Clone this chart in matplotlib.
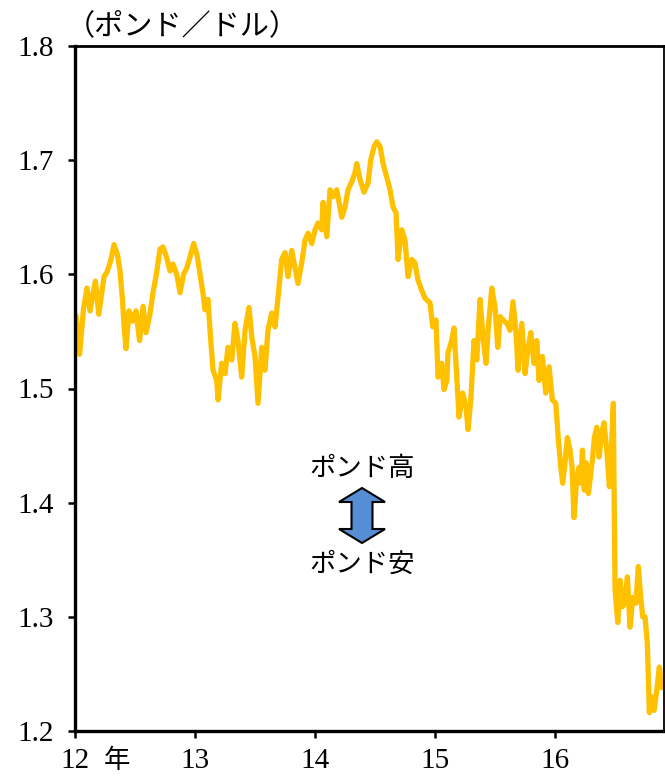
import matplotlib
matplotlib.use("Agg")
import matplotlib.pyplot as plt
from matplotlib.patches import Polygon

# decimal year, GBP/USD
t = [2012.008, 2012.038, 2012.071, 2012.100, 2012.125, 2012.170, 2012.198, 2012.242,
     2012.267, 2012.298, 2012.325, 2012.354, 2012.375, 2012.396, 2012.408, 2012.425,
     2012.450, 2012.481, 2012.508, 2012.538, 2012.567, 2012.592, 2012.623, 2012.650,
     2012.678, 2012.708, 2012.733, 2012.763, 2012.792, 2012.817, 2012.850, 2012.875,
     2012.905, 2012.933, 2012.958, 2012.989, 2013.017, 2013.042, 2013.067, 2013.083,
     2013.108, 2013.125, 2013.150, 2013.181, 2013.192, 2013.222, 2013.250, 2013.275,
     2013.306, 2013.333, 2013.358, 2013.389, 2013.417, 2013.450, 2013.473, 2013.500,
     2013.525, 2013.556, 2013.583, 2013.608, 2013.639, 2013.667, 2013.692, 2013.722,
     2013.750, 2013.775, 2013.806, 2013.833, 2013.858, 2013.889, 2013.917, 2013.942,
     2013.973, 2014.000, 2014.025, 2014.056, 2014.067, 2014.098, 2014.125, 2014.150,
     2014.181, 2014.223, 2014.250, 2014.275, 2014.306, 2014.333, 2014.348, 2014.375,
     2014.408, 2014.442, 2014.464, 2014.492, 2014.514, 2014.542, 2014.567, 2014.598,
     2014.625, 2014.650, 2014.675, 2014.692, 2014.723, 2014.750, 2014.775, 2014.806,
     2014.833, 2014.858, 2014.889, 2014.917, 2014.958, 2014.981, 2015.008, 2015.025,
     2015.056, 2015.075, 2015.098, 2015.108, 2015.139, 2015.158, 2015.181, 2015.200,
     2015.231, 2015.258, 2015.275, 2015.298, 2015.325, 2015.348, 2015.375, 2015.400,
     2015.425, 2015.442, 2015.473, 2015.500, 2015.523, 2015.542, 2015.567, 2015.598,
     2015.625, 2015.650, 2015.675, 2015.692, 2015.723, 2015.750, 2015.773, 2015.798,
     2015.825, 2015.848, 2015.867, 2015.894, 2015.923, 2015.950, 2015.978, 2016.006,
     2016.028, 2016.048, 2016.064, 2016.083, 2016.103, 2016.125, 2016.142, 2016.158,
     2016.181, 2016.200, 2016.217, 2016.228, 2016.244, 2016.258, 2016.278, 2016.298,
     2016.314, 2016.328, 2016.348, 2016.367, 2016.389, 2016.408, 2016.431, 2016.453,
     2016.473, 2016.486, 2016.492, 2016.500, 2016.523, 2016.542, 2016.564, 2016.583,
     2016.603, 2016.625, 2016.648, 2016.675, 2016.694, 2016.714, 2016.731, 2016.750,
     2016.769, 2016.786, 2016.806, 2016.825, 2016.848, 2016.869, 2016.889, 2016.903]

rate = [1.564, 1.530, 1.570, 1.588, 1.568, 1.594, 1.565, 1.598,
        1.602, 1.612, 1.626, 1.617, 1.603, 1.577, 1.556, 1.535,
        1.568, 1.559, 1.568, 1.542, 1.572, 1.549, 1.564, 1.584,
        1.600, 1.622, 1.624, 1.615, 1.603, 1.609, 1.599, 1.584,
        1.600, 1.606, 1.615, 1.627, 1.617, 1.600, 1.583, 1.569,
        1.578, 1.551, 1.516, 1.507, 1.490, 1.522, 1.513, 1.536,
        1.525, 1.557, 1.542, 1.510, 1.551, 1.571, 1.545, 1.528,
        1.487, 1.536, 1.516, 1.551, 1.566, 1.554, 1.580, 1.613,
        1.619, 1.598, 1.621, 1.606, 1.592, 1.610, 1.630, 1.636,
        1.627, 1.639, 1.645, 1.639, 1.663, 1.633, 1.674, 1.668,
        1.674, 1.650, 1.659, 1.674, 1.681, 1.689, 1.697, 1.683,
        1.672, 1.680, 1.700, 1.712, 1.716, 1.712, 1.697, 1.685,
        1.674, 1.659, 1.654, 1.613, 1.639, 1.630, 1.598, 1.613,
        1.610, 1.595, 1.586, 1.579, 1.575, 1.554, 1.560, 1.510,
        1.522, 1.499, 1.507, 1.531, 1.542, 1.553, 1.510, 1.475,
        1.496, 1.484, 1.464, 1.490, 1.542, 1.525, 1.578, 1.545,
        1.522, 1.551, 1.588, 1.571, 1.536, 1.563, 1.560, 1.557,
        1.551, 1.576, 1.549, 1.516, 1.557, 1.513, 1.534, 1.549,
        1.522, 1.542, 1.507, 1.528, 1.496, 1.519, 1.490, 1.487,
        1.455, 1.431, 1.417, 1.435, 1.457, 1.446, 1.431, 1.387,
        1.422, 1.431, 1.417, 1.446, 1.411, 1.435, 1.408, 1.426,
        1.440, 1.457, 1.466, 1.440, 1.461, 1.470, 1.446, 1.414,
        1.455, 1.487, 1.411, 1.324, 1.295, 1.332, 1.309, 1.315,
        1.335, 1.291, 1.317, 1.312, 1.344, 1.317, 1.300, 1.300,
        1.277, 1.216, 1.230, 1.218, 1.236, 1.256, 1.238, 1.245]

x_ticks = [2012, 2013, 2014, 2015, 2016]
x_labels = ["12", "13", "14", "15", "16"]
y_ticks = [1.2, 1.3, 1.4, 1.5, 1.6, 1.7, 1.8]
y_labels = ["1.2", "1.3", "1.4", "1.5", "1.6", "1.7", "1.8"]

serif = ["Liberation Serif", "Noto Sans CJK JP"]
jp = ["Noto Sans CJK JP", "DejaVu Sans"]

fig = plt.figure(figsize=(6.65, 7.78), dpi=100)
ax = fig.add_axes([75 / 665, 47 / 778, 589 / 665, 685 / 778])

ax.plot(t, rate, color="#FFC000", linewidth=3.8, solid_joinstyle="round", solid_capstyle="round")

ax.set_xlim(2012, 2016.908)
ax.set_ylim(1.2, 1.8)
ax.set_xticks(x_ticks)
ax.set_xticklabels(x_labels, family=serif, fontsize=21)
ax.set_yticks(y_ticks)
ax.set_yticklabels(y_labels, family=serif, fontsize=21)
ax.tick_params(axis="x", direction="out", length=5, width=1.8, pad=7)
ax.tick_params(axis="y", direction="out", length=5, width=1.8, pad=10)

for side in ["left", "bottom"]:
    ax.spines[side].set_linewidth(2.4)
ax.spines["top"].set_linewidth(2.0)
ax.spines["right"].set_linewidth(1.3)

# "年" after the first year label
ax.annotate("年", xy=(2012, 0), xycoords=("data", "axes fraction"),
            xytext=(42, -16), textcoords="offset pixels",
            ha="center", va="top", family=jp, fontsize=19)

fig.text(66 / 665, 1 - 26 / 778, "（ポンド／ドル）", family=jp, fontsize=21,
         ha="left", va="center")

# pound strong / weak note with double arrow
cx = (362 - 75) / 589
ax.text(cx, (731 - 468) / 685, "ポンド高", transform=ax.transAxes,
        family=jp, fontsize=19, ha="center", va="center")
ax.text(cx, (731 - 564) / 685, "ポンド安", transform=ax.transAxes,
        family=jp, fontsize=19, ha="center", va="center")

hw, sw = 23 / 589, 10.5 / 589
top, bot = (731 - 488) / 685, (731 - 543) / 685
hh = 14 / 685
arrow = Polygon([(cx, top), (cx + hw, top - hh), (cx + sw, top - hh),
                 (cx + sw, bot + hh), (cx + hw, bot + hh), (cx, bot),
                 (cx - hw, bot + hh), (cx - sw, bot + hh), (cx - sw, top - hh),
                 (cx - hw, top - hh)],
                closed=True, transform=ax.transAxes,
                facecolor="#558ED5", edgecolor="black", linewidth=1.5)
ax.add_patch(arrow)

plt.savefig("out.png", dpi=100)
plt.close()
